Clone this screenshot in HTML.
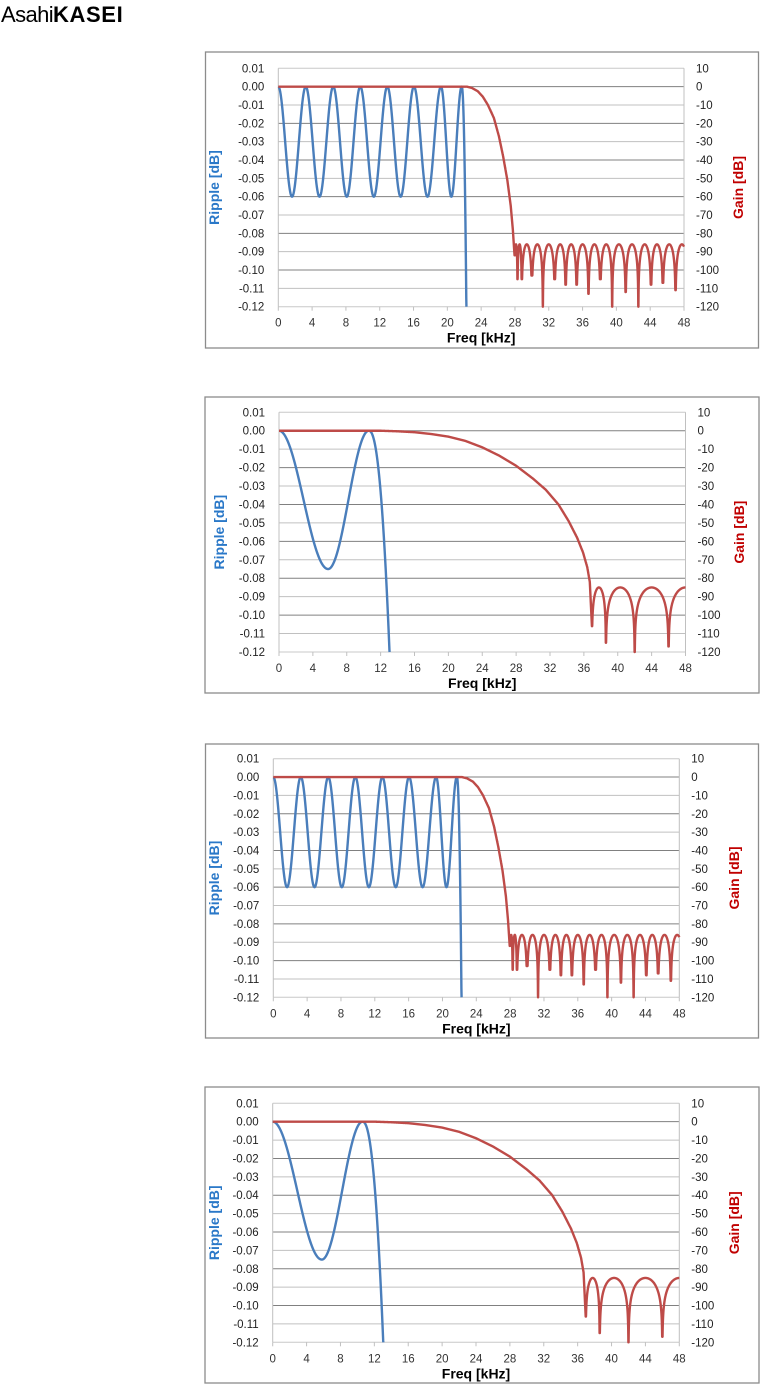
<!DOCTYPE html>
<html><head><meta charset="utf-8"><style>
html,body{margin:0;padding:0;background:#fff;width:760px;height:1385px;overflow:hidden}
svg{display:block}
text{font-family:"Liberation Sans",sans-serif}
</style></head><body>
<svg id="s" width="760" height="1385" xmlns="http://www.w3.org/2000/svg">
<text x="1" y="22" font-size="22" fill="#000" style="letter-spacing:-0.6px">Asahi<tspan font-weight="bold" style="letter-spacing:0.6px">KASEI</tspan></text>
</svg>
<script>
var NS="http://www.w3.org/2000/svg",S=document.getElementById('s');
function el(t,a,txt){var e=document.createElementNS(NS,t);for(var k in a)e.setAttribute(k,a[k]);if(txt!=null)e.textContent=txt;S.appendChild(e);return e;}
function interpL(pts,f){if(f<=pts[0][0])return pts[0][1];for(var i=1;i<pts.length;i++){if(f<=pts[i][0]){var a=pts[i-1],b=pts[i];var t=(f-a[0])/(b[0]-a[0]);return a[1]+(b[1]-a[1])*t;}}return pts[pts.length-1][1];}
function chart(c){
 var L=c.L,R=c.R,T=c.T,B=c.B,st=(B-T)/13;
 el('rect',{x:c.bx,y:c.by,width:c.bw,height:c.bh,fill:'#fff',stroke:'#8c8c8c','stroke-width':1.3});
 for(var i=0;i<=13;i++){var y=T+i*st;var dark=(i%2==1);
  el('line',{x1:L,x2:R,y1:y,y2:y,stroke:(i==0||i==13)?'#c8c8c8':(dark?'#808080':'#c0c0c0'),'stroke-width':1});
  var v=(0.01-i*0.01);var lab=(v<-1e-9?'-':'')+Math.abs(v).toFixed(2);
  el('text',{x:L-14,y:y+4,'font-size':11.5,'text-anchor':'end',fill:'#222'},lab);
  var g=10-i*10;el('text',{x:R+12,y:y+4,'font-size':11.5,fill:'#222'},String(g));}
 el('line',{x1:L,x2:L,y1:T,y2:B,stroke:'#c0c0c0'});el('line',{x1:R,x2:R,y1:T,y2:B,stroke:'#c0c0c0'});
 for(var k=0;k<=12;k++){var x=L+(R-L)*k/12;el('line',{x1:x,x2:x,y1:B,y2:B+4,stroke:'#c0c0c0'});
  el('text',{x:x,y:B+20,'font-size':11.5,'text-anchor':'middle',fill:'#333'},String(k*4));}
 el('text',{x:(L+R)/2,y:B+36,'font-size':14,'font-weight':'bold','text-anchor':'middle',fill:'#000'},'Freq [kHz]');
 el('text',{x:0,y:0,'font-size':14,'font-weight':'bold','text-anchor':'middle',fill:'#2a78c8',transform:'translate('+c.tlx+','+(T+B)/2+') rotate(-90)'},'Ripple [dB]');
 el('text',{x:0,y:0,'font-size':14,'font-weight':'bold','text-anchor':'middle',fill:'#c00000',transform:'translate('+c.trx+','+(T+B)/2+') rotate(-90)'},'Gain [dB]');
 var fx=function(f){return L+(R-L)*f/48;};
 var yr=function(r){return T+(0.01-r)/0.01*st;};
 var yg=function(g){return T+(10-g)/10*st;};
 var d='';for(var f=0;f<=c.bEnd;f+=0.02){var r=c.ripple(f);if(r<-0.12)r=-0.12;d+=(d?'L':'M')+fx(f).toFixed(2)+','+yr(r).toFixed(2);if(r<=-0.12)break;}
 el('path',{d:d,fill:'none',stroke:'#4a7ebb','stroke-width':2.4,'stroke-linejoin':'round'});
 d='';for(var f=0;f<=48.001;f+=0.01){var g=c.gain(f);if(g<-120)g=-120;d+=(d?'L':'M')+fx(f).toFixed(2)+','+yg(g).toFixed(2);}
 el('path',{d:d,fill:'none',stroke:'#be4b48','stroke-width':2.4,'stroke-linejoin':'round'});
}
var pk=[0,3.25,6.5,9.7,12.9,16.05,19.25,21.7];
function rippleSharp(f){if(f<=21.7){for(var i=0;i<pk.length-1;i++){if(f<=pk[i+1]){var t=(f-pk[i])/(pk[i+1]-pk[i]);return -0.03*(1-Math.cos(2*Math.PI*t));}}}
 var x=(f-21.7)/0.55;return -0.12*Math.pow(Math.max(x,0),2.2);}
var trS=[[0,0],[22.3,0],[22.9,-0.7],[23.6,-2.5],[24.2,-5.5],[24.8,-10],[25.5,-17],[26.1,-27],[26.6,-38],[27.1,-51],[27.5,-65],[27.75,-78],[27.95,-92]];
var nS=[27.95,28.3,28.8,30.0,31.3,32.7,34.0,35.3,36.7,38.1,39.5,41.1,42.6,44.1,45.5,47.0,48.5];
var dS=[-92,-105,-105,-103,-125,-105,-108,-108,-113,-105,-125,-112,-125,-108,-107,-111,-100];
function gainSharp(f){if(f<27.95)return interpL(trS,f);
 for(var i=0;i<nS.length-1;i++){var a=nS[i],b=nS[i+1];if(f>=a&&f<=b){var s=Math.abs(Math.sin(Math.PI*(f-a)/(b-a)));var g=-86+20*Math.log10(Math.max(s,1e-9));var lo=(f-a)<(b-f)?dS[i]:dS[i+1];return Math.max(g,lo);}}return -86;}
function rippleSlow(f){if(f<=5.8)return -0.0375*(1-Math.cos(Math.PI*f/5.8));
 if(f<=10.6)return -0.0375*(1+Math.cos(Math.PI*(f-5.8)/4.8));
 var x=(f-10.6)/2.45;return -0.12*Math.pow(x,2.3);}
var trW=[[0,0],[12,0],[14,-0.3],[16,-0.8],[18,-1.8],[20,-3.2],[22,-5.5],[24,-9],[26,-13.5],[28,-19],[30,-26],[31.5,-32],[33,-40],[34.2,-49],[35.2,-58],[35.9,-66],[36.4,-74],[36.7,-82],[36.95,-106]];
var nW=[36.95,38.6,42.0,46.0,50];var dW=[-106,-115,-120,-117,-100];
function gainSlow(f){if(f<36.95)return interpL(trW,f);
 for(var i=0;i<nW.length-1;i++){var a=nW[i],b=nW[i+1];if(f>=a&&f<=b){var s=Math.abs(Math.sin(Math.PI*(f-a)/(b-a)));var g=-85+20*Math.log10(Math.max(s,1e-9))*0.9;var lo=(f-a)<(b-f)?dW[i]:dW[i+1];return Math.max(g,lo);}}return -85;}
chart({bx:205.5,by:52,bw:553,bh:296,L:278.3,R:684,T:68.3,B:306.7,tlx:219,trx:743,ripple:rippleSharp,gain:gainSharp,bEnd:23});
chart({bx:205,by:397,bw:554,bh:296,L:279,R:685.5,T:412.3,B:652,tlx:224,trx:744,ripple:rippleSlow,gain:gainSlow,bEnd:14});
chart({bx:205.5,by:744,bw:553,bh:294,L:273.3,R:679.3,T:758.7,B:997.3,tlx:219,trx:739,ripple:rippleSharp,gain:gainSharp,bEnd:23});
chart({bx:205,by:1087,bw:554,bh:296,L:272.7,R:679.3,T:1103.3,B:1342.3,tlx:219,trx:739,ripple:rippleSlow,gain:gainSlow,bEnd:14});
</script>
</body></html>
